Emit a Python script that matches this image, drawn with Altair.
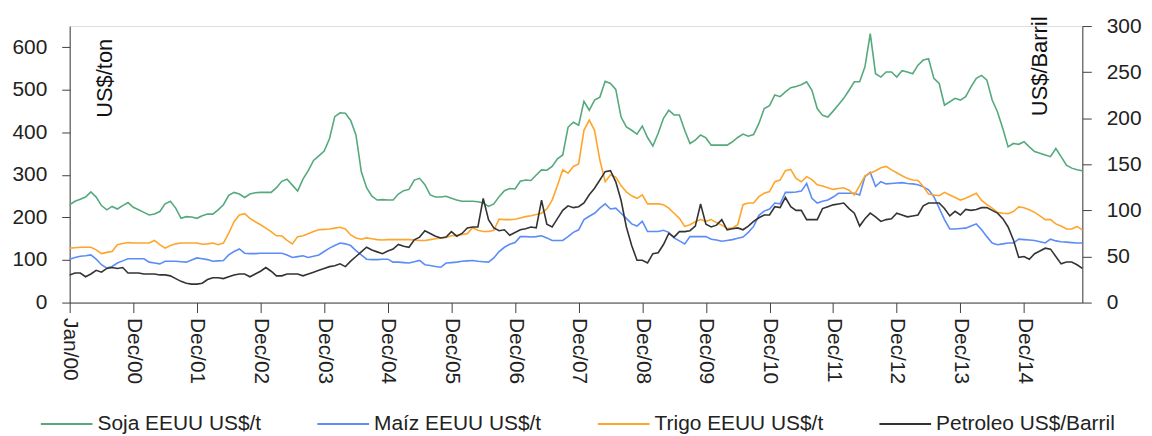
import altair as alt
import pandas as pd

# Monthly series, Jan/2000 .. Dec/2015 (index 0..191)
soja = [
    230, 238, 243, 248, 260, 248, 228, 218, 226, 220,
    228, 235, 224, 218, 212, 206, 208, 214, 232, 238,
    222, 198, 202, 201, 198, 204, 208, 208, 218, 230,
    252, 259, 255, 247, 255, 258, 259, 259, 259, 270,
    285, 290, 276, 262, 290, 310, 334, 345, 356, 385,
    437, 446, 445, 428, 394, 308, 270, 250, 241, 242,
    241, 241, 255, 263, 266, 288, 292, 277, 253, 248,
    248, 250, 245, 241, 238, 238, 238, 237, 234, 226,
    232, 249, 263, 268, 267, 285, 288, 287, 300, 312,
    311, 320, 338, 347, 412, 424, 417, 473, 452, 476,
    483, 520, 515, 501, 436, 413, 405, 396, 415, 388,
    368, 398, 433, 452, 441, 441, 405, 374, 382, 394,
    387, 370, 370, 370, 370, 378, 388, 396, 391, 395,
    421, 456, 463, 488, 484, 495, 505, 508, 512, 519,
    499, 456, 440, 436, 450, 465, 480, 499, 519, 519,
    554, 632, 538, 530, 542, 542, 530, 545, 542, 538,
    558, 570, 573, 527, 515, 464, 472, 480, 476, 484,
    507, 527, 534, 523, 476, 448, 409, 366, 374, 372,
    378, 366, 355, 351, 347, 343, 362, 343, 323, 316,
    312, 310,
]
maiz = [
    102, 106, 109, 110, 112, 102, 89, 81, 85, 93,
    98, 103, 103, 103, 103, 95, 93, 91, 97, 97,
    97, 96, 95, 100, 105, 103, 101, 97, 98, 99,
    112, 120, 126, 116, 115, 115, 116, 116, 116, 116,
    116, 112, 106, 108, 110, 106, 109, 112, 120, 128,
    134, 140, 138, 134, 122, 112, 102, 101, 101, 102,
    102, 95, 95, 94, 93, 96, 99, 89, 87, 85,
    83, 93, 94, 95, 97, 98, 99, 97, 96, 95,
    105, 120, 130, 137, 141, 155, 155, 154, 155, 157,
    152, 146, 146, 146, 155, 165, 171, 195, 203, 210,
    222, 232, 220, 222, 210, 198, 185, 180, 191, 167,
    167, 167, 170, 165, 152, 145, 138, 155, 155, 155,
    155, 149, 147, 144, 146, 148, 151, 154, 165, 179,
    205, 215, 220, 234, 232, 259, 259, 260, 262, 280,
    245, 234, 238, 241, 248, 257, 257, 257, 257, 253,
    296, 306, 273, 284, 279, 280, 281, 282, 280, 279,
    277, 272, 265, 249, 222, 195, 173, 173, 174, 175,
    180, 185, 171, 155, 140, 136, 138, 140, 140, 149,
    148, 147, 146, 143, 140, 149, 145, 143, 142, 141,
    140, 140,
]
trigo = [
    128, 129, 130, 130, 130, 124, 115, 118, 120, 136,
    139, 141, 140, 140, 140, 140, 146, 136, 128, 134,
    138, 140, 140, 140, 140, 137, 138, 140, 136, 140,
    163, 190, 206, 209, 198, 190, 183, 175, 167, 157,
    157, 146, 138, 155, 157, 162, 167, 171, 172, 173,
    175, 177, 173, 159, 152, 149, 152, 150, 148, 147,
    148, 148, 148, 148, 148, 147, 146, 146, 148, 150,
    152, 153, 157, 158, 160, 162, 176, 170, 167, 167,
    170, 196, 195, 195, 196, 199, 202, 204, 207, 210,
    220, 241, 275, 312, 304, 320, 326, 405, 429, 405,
    335, 284, 300, 295, 275, 260, 251, 245, 253, 232,
    232, 232, 230, 222, 210, 198, 179, 183, 190, 195,
    191, 195, 188, 182, 174, 175, 183, 230, 234, 234,
    249, 257, 261, 284, 288, 310, 313, 292, 284, 296,
    289, 277, 274, 270, 266, 268, 270, 264, 253, 275,
    298, 304, 310, 317, 320, 312, 305, 298, 292, 288,
    287, 273, 255, 253, 251, 259, 253, 247, 241, 245,
    251, 257, 240, 230, 222, 212, 210, 209, 214, 225,
    223, 218, 212, 204, 195, 195, 185, 180, 173, 173,
    179, 171,
]
petroleo = [
    30, 32, 32, 28, 31, 35, 33, 37, 38, 37,
    38, 32, 32, 32, 31, 31, 31, 30, 30, 29,
    26, 23, 21, 20, 20, 21, 25, 27, 27, 26,
    28, 30, 31, 31, 28, 31, 34, 38, 34, 29,
    29, 31, 31, 31, 29, 31, 33, 35, 37, 39,
    40, 42, 39, 45, 50, 55, 60, 57, 55, 53,
    56, 58, 63, 61, 60, 68, 71, 78, 75, 72,
    70, 71, 77, 72, 75, 81, 82, 82, 113, 90,
    81, 78, 79, 73, 76, 79, 80, 82, 81, 111,
    85, 82, 91, 100, 105, 103, 104, 108, 117, 124,
    133, 142, 143, 131, 111, 82, 62, 46, 46, 43,
    53, 54, 63, 75, 71, 77, 77, 78, 83, 107,
    85, 82, 84, 90, 79, 80, 81, 79, 83, 88,
    92, 95, 95, 104, 103, 114, 104, 100, 100, 90,
    90, 90, 102, 104, 106, 107, 108, 102, 97, 83,
    91, 97, 93, 88, 90, 91, 97, 95, 93, 94,
    95, 105, 108, 108, 108, 102, 94, 99, 95, 101,
    100, 101, 103, 103, 100, 97, 91, 82, 68, 49,
    50, 47, 53, 56, 59, 58, 50, 42, 44, 44,
    41, 37,
]

series_names = ["Soja EEUU US$/t", "Maíz EEUU US$/t", "Trigo EEUU US$/t", "Petroleo US$/Barril"]
series_colors = ["#55a97d", "#5b8cf8", "#ffa52b", "#333333"]
tick_values = [0, 12, 24, 36, 48, 60, 72, 84, 96, 108, 120, 132, 144, 156, 168, 180]
tick_labels = ["Jan/00", "Dec/00", "Dec/01", "Dec/02", "Dec/03", "Dec/04", "Dec/05", "Dec/06",
               "Dec/07", "Dec/08", "Dec/09", "Dec/10", "Dec/11", "Dec/12", "Dec/13", "Dec/14"]

rows = []
for name, vals in zip(series_names, [soja, maiz, trigo, petroleo]):
    for i, v in enumerate(vals):
        rows.append({"mes": i, "serie": name, "valor": v})
df = pd.DataFrame(rows)

label_expr = "''"
for v, l in reversed(list(zip(tick_values, tick_labels))):
    label_expr = f"datum.value == {v} ? '{l}' : ({label_expr})"

FONT = "Liberation Sans"
AX = "#404040"

color = alt.Color(
    "serie:N",
    scale=alt.Scale(domain=series_names, range=series_colors),
    sort=series_names,
    legend=alt.Legend(
        title=None, orient="none", legendX=-30, legendY=373, direction="horizontal",
        symbolType="stroke", symbolSize=2700, symbolStrokeWidth=2,
        labelFontSize=21, labelFont=FONT, labelColor="#222222",
        labelOffset=4, columnPadding=52, labelLimit=400,
    ),
)

x = alt.X(
    "mes:Q",
    scale=alt.Scale(domain=[0, 191], nice=False, zero=False),
    axis=alt.Axis(
        title=None, values=tick_values, labelExpr=label_expr, labelAngle=90,
        labelAlign="left", labelBaseline="middle", labelFontSize=21, labelFont=FONT,
        labelColor="#222222", labelPadding=5, tickSize=10, tickColor=AX, domainColor=AX,
        grid=False, labelOverlap=False,
    ),
)

base = alt.Chart(df)

granos = base.transform_filter(
    alt.FieldOneOfPredicate(field="serie", oneOf=series_names[:3])
).mark_line(strokeWidth=1.6).encode(
    x=x,
    y=alt.Y(
        "valor:Q",
        scale=alt.Scale(domain=[0, 650], nice=False),
        axis=alt.Axis(
            title="US$/ton", titleAngle=270, titleX=35, titleY=52, titleAlign="center",
            titleBaseline="middle", titleFontSize=22, titleFont=FONT, titleFontWeight="normal",
            titleColor="#111111",
            values=[0, 100, 200, 300, 400, 500, 600], labelFontSize=21, labelFont=FONT,
            labelColor="#222222", labelPadding=15, tickSize=8, tickColor=AX, domainColor=AX,
            grid=False,
        ),
    ),
    color=color,
    detail="serie:N",
)

crudo = base.transform_filter(
    alt.FieldEqualPredicate(field="serie", equal=series_names[3])
).mark_line(strokeWidth=1.6).encode(
    x=x,
    y=alt.Y(
        "valor:Q",
        scale=alt.Scale(domain=[0, 300], nice=False),
        axis=alt.Axis(
            orient="right",
            title="US$/Barril", titleAngle=270, titleX=-43, titleY=40, titleAlign="center",
            titleBaseline="middle", titleFontSize=22, titleFont=FONT, titleFontWeight="normal",
            titleColor="#111111",
            values=[0, 50, 100, 150, 200, 250, 300], labelFontSize=21, labelFont=FONT,
            labelColor="#222222", labelPadding=15, tickSize=9, tickColor=AX, domainColor=AX,
            grid=False,
        ),
    ),
    color=color,
)

chart = alt.layer(granos, crudo).resolve_scale(y="independent").properties(
    width=1018, height=278,
    autosize=alt.AutoSizeParams(type="none"),
    padding={"left": 62, "top": 17, "right": 62, "bottom": 133},
).configure_view(stroke=None).configure(font=FONT)

chart.save("out.html", embed_options={"renderer": "svg", "actions": False})
